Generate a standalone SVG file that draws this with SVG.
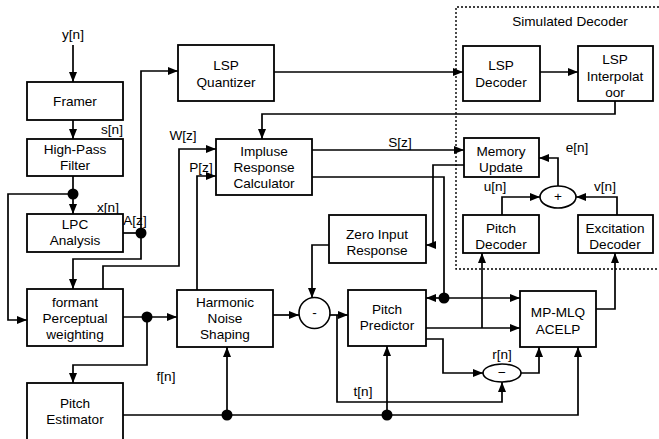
<svg xmlns="http://www.w3.org/2000/svg" width="659" height="439" viewBox="0 0 659 439">
<defs>
<marker id="ah" markerUnits="userSpaceOnUse" markerWidth="10" markerHeight="8" refX="10" refY="4" orient="auto">
<path d="M0,0 L10,4 L0,8 z" fill="#000"/>
</marker>
<style>
.box{fill:#fff;stroke:#000;stroke-width:1.8}
.t{font-family:"Liberation Sans",Arial,sans-serif;font-size:13.6px;text-anchor:middle;fill:#000}
.c path{fill:none;stroke:#000;stroke-width:1.7}
.a{marker-end:url(#ah)}
.dot{fill:#000}
</style>
</defs>
<rect width="659" height="439" fill="#fff"/>

<path d="M659,7 H456 V269 H659" fill="none" stroke="#000" stroke-width="1.4" stroke-dasharray="2,2"/>
<text class="t" x="570" y="26">Simulated Decoder</text>

<g class="c" id="connectors">
<path class="a" d="M73,45 V82"/>
<path class="a" d="M73,120 V139"/>
<path class="a" d="M73,176 V214"/>
<path class="a" d="M73,194 H8 V320 H27"/>
<path d="M123,233 H141"/>
<path class="a" d="M141,233 V71 H178"/>
<path class="a" d="M141,233 V259 H73 V289"/>
<path class="a" d="M103,289 V266 H179 V149 H216"/>
<path class="a" d="M123,317 H177"/>
<path class="a" d="M147,317 V365 H73 V383"/>
<path class="a" d="M123,415 H578 V347"/>
<path class="a" d="M227,415 V347"/>
<path class="a" d="M387,415 V346"/>
<path class="a" d="M197,290 V176 H216"/>
<path class="a" d="M273,315 H299"/>
<path class="a" d="M330,315 H348"/>
<path class="a" d="M337,315 V402 H502 V382"/>
<path class="a" d="M329,245 H312 V298"/>
<path class="a" d="M274,72 H463"/>
<path class="a" d="M540,72 H578"/>
<path class="a" d="M615,101 V114 H262 V139"/>
<path class="a" d="M312,150 H464"/>
<path d="M312,177 H444 V298"/>
<path class="a" d="M444,298 H426"/>
<path class="a" d="M444,298 H520"/>
<path class="a" d="M464,165 H433 V245 H426"/>
<path class="a" d="M426,328 H520"/>
<path class="a" d="M482,328 V253"/>
<path class="a" d="M426,339 H443 V373 H483"/>
<path class="a" d="M521,373 H539 V347"/>
<path class="a" d="M596,309 H615 V253"/>
<path class="a" d="M502,215 V197 H540"/>
<path class="a" d="M617,215 V197 H576"/>
<path class="a" d="M558,186 V158 H539"/>
<circle class="dot" cx="73" cy="194" r="5.5"/>
<circle class="dot" cx="141" cy="233" r="5.5"/>
<circle class="dot" cx="147" cy="317" r="5.5"/>
<circle class="dot" cx="227" cy="415" r="5.5"/>
<circle class="dot" cx="387" cy="415" r="5.5"/>
<circle class="dot" cx="444" cy="298" r="5.5"/>
</g>

<g id="labels">
<text class="t" x="73" y="39">y[n]</text>
<text class="t" x="112" y="134">s[n]</text>
<text class="t" x="108" y="212">x[n]</text>
<text class="t" x="135" y="225">A[z]</text>
<text class="t" x="183" y="140">W[z]</text>
<text class="t" x="201" y="172">P[z]</text>
<text class="t" x="400" y="147">S[z]</text>
<text class="t" x="577" y="152">e[n]</text>
<text class="t" x="495" y="191">u[n]</text>
<text class="t" x="605" y="191">v[n]</text>
<text class="t" x="166" y="381">f[n]</text>
<text class="t" x="363" y="396">t[n]</text>
<text class="t" x="502" y="359">r[n]</text>
</g>

<g id="framer"><rect class="box" x="27" y="82" width="96" height="38"/><text class="t" x="75" y="106">Framer</text></g>
<g id="hpf"><rect class="box" x="27" y="139" width="96" height="37"/><text class="t" x="75" y="154">High-Pass</text><text class="t" x="75" y="170">Filter</text></g>
<g id="lpc"><rect class="box" x="27" y="214" width="96" height="38"/><text class="t" x="75" y="229">LPC</text><text class="t" x="75" y="245">Analysis</text></g>
<g id="formant"><rect class="box" x="27" y="289" width="96" height="57"/><text class="t" x="75" y="307">formant</text><text class="t" x="75" y="323">Perceptual</text><text class="t" x="75" y="339">weighting</text></g>
<g id="pitchest"><rect class="box" x="27" y="383" width="96" height="60"/><text class="t" x="75" y="408">Pitch</text><text class="t" x="75" y="424">Estimator</text></g>
<g id="lspq"><rect class="box" x="178" y="45" width="96" height="56"/><text class="t" x="226" y="70">LSP</text><text class="t" x="226" y="87">Quantizer</text></g>
<g id="impulse"><rect class="box" x="216" y="139" width="96" height="56"/><text class="t" x="264" y="156">Impluse</text><text class="t" x="264" y="172">Response</text><text class="t" x="264" y="188">Calculator</text></g>
<g id="harmonic"><rect class="box" x="177" y="290" width="96" height="57"/><text class="t" x="225" y="307">Harmonic</text><text class="t" x="225" y="323">Noise</text><text class="t" x="225" y="339">Shaping</text></g>
<g id="minus1"><circle cx="314.5" cy="313" r="15.5" fill="#fff" stroke="#000" stroke-width="1.6"/><text class="t" x="314.5" y="317">-</text></g>
<g id="zir"><rect class="box" x="329" y="215" width="97" height="48"/><text class="t" x="377" y="239">Zero Input</text><text class="t" x="377" y="255">Response</text></g>
<g id="pitchpred"><rect class="box" x="348" y="290" width="78" height="56"/><text class="t" x="387" y="314">Pitch</text><text class="t" x="387" y="330">Predictor</text></g>
<g id="mpmlq"><rect class="box" x="520" y="291" width="76" height="56"/><text class="t" x="558" y="317">MP-MLQ</text><text class="t" x="558" y="334">ACELP</text></g>
<g id="minus2"><ellipse cx="502" cy="373" rx="19" ry="9" fill="#fff" stroke="#000" stroke-width="1.6"/><text class="t" x="502" y="377">−</text></g>
<g id="lspdec"><rect class="box" x="463" y="46" width="77" height="55"/><text class="t" x="501" y="70">LSP</text><text class="t" x="501" y="87">Decoder</text></g>
<g id="lspint"><rect class="box" x="578" y="46" width="75" height="55"/><text class="t" x="615" y="64">LSP</text><text class="t" x="615" y="81">Interpolat</text><text class="t" x="615" y="97">oor</text></g>
<g id="memupd"><rect class="box" x="464" y="138" width="75" height="39"/><text class="t" x="501" y="156">Memory</text><text class="t" x="501" y="172">Update</text></g>
<g id="plus"><ellipse cx="558" cy="197" rx="18" ry="11" fill="#fff" stroke="#000" stroke-width="1.6"/><text class="t" x="558" y="201">+</text></g>
<g id="pitchdec"><rect class="box" x="463" y="215" width="76" height="38"/><text class="t" x="501" y="233">Pitch</text><text class="t" x="501" y="249">Decoder</text></g>
<g id="excdec"><rect class="box" x="578" y="215" width="75" height="38"/><text class="t" x="615" y="233">Excitation</text><text class="t" x="615" y="249">Decoder</text></g>
</svg>
